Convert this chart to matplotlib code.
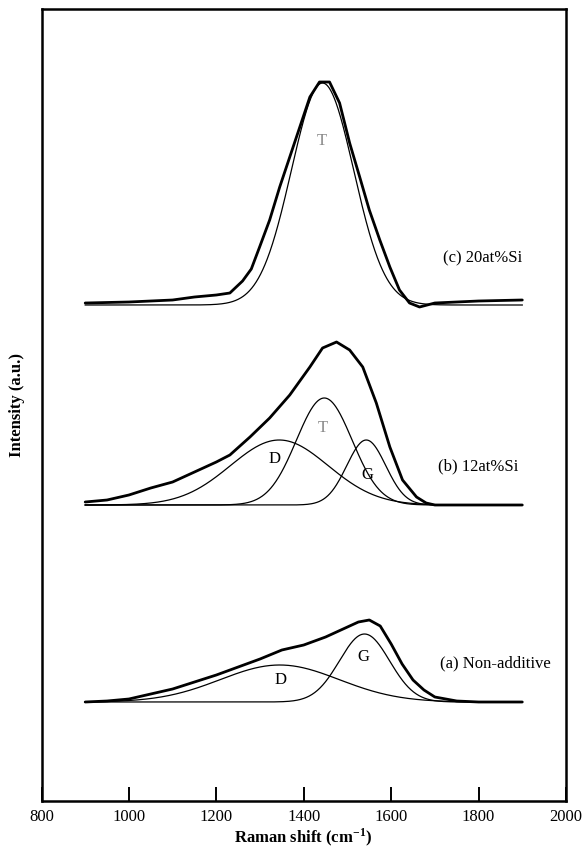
import numpy as np
import matplotlib
matplotlib.use("Agg")
import matplotlib.pyplot as plt

plt.rcParams['font.family'] = ['Liberation Serif', 'DejaVu Serif']
plt.rcParams['mathtext.fontset'] = 'stix'

# ---- data ----
# vertical offsets of each spectrum (arbitrary units)
offsets = {"a": 99, "b": 296, "c": 496}

# measured spectra (envelope, height above baseline)
meas_a_x = [900, 950, 1000, 1050, 1100, 1150, 1200, 1250, 1300, 1350, 1400, 1450,
            1500, 1525, 1550, 1575, 1600, 1625, 1650, 1675, 1700, 1750, 1800, 1900]
meas_a_y = [0, 1, 3, 8, 13, 20, 27, 35, 43, 52, 57, 65,
            75, 80, 82, 76, 58, 38, 22, 12, 5, 1, 0, 0]

meas_b_x = [900, 950, 1000, 1050, 1100, 1150, 1200, 1231, 1277, 1322, 1368, 1414,
            1443, 1475, 1505, 1535, 1566, 1597, 1626, 1658, 1680, 1700, 1800, 1900]
meas_b_y = [3, 5, 10, 17, 23, 33, 43, 50, 68, 87, 110, 138,
            157, 163, 155, 138, 102, 58, 25, 8, 2, 0, 0, 0]

meas_c_x = [900, 1000, 1100, 1150, 1200, 1231, 1260, 1280, 1299, 1322, 1345, 1368,
            1391, 1414, 1436, 1459, 1482, 1505, 1528, 1550, 1574, 1597, 1619, 1642,
            1665, 1700, 1800, 1900]
meas_c_y = [2, 3, 5, 8, 10, 12, 24, 36, 58, 85, 118, 148,
            178, 208, 223, 223, 202, 162, 128, 95, 65, 38, 15, 2,
            -2, 2, 4, 5]

# fitted Gaussian components: (label, center cm-1, FWHM cm-1, height)
fit_a = [("D", 1345, 320, 37), ("G", 1539, 135, 68)]
fit_b = [("D", 1344, 263, 65), ("T", 1447, 150, 107), ("G", 1543, 105, 65)]
fit_c = [("T", 1443, 168, 222)]

xticks = [800, 1000, 1200, 1400, 1600, 1800, 2000]

# ---- plotting ----
fig = plt.figure(figsize=(5.84, 8.66), dpi=100)
ax = fig.add_axes([41.5/584, 1-801/866, (566-41.5)/584, (801-9)/866])

xg = np.linspace(900, 1900, 801)

def gauss(x, c, w, h):
    s = w / 2.3548
    return h * np.exp(-(x - c) ** 2 / (2 * s * s))

for key, mx, my, fits in [("a", meas_a_x, meas_a_y, fit_a),
                          ("b", meas_b_x, meas_b_y, fit_b),
                          ("c", meas_c_x, meas_c_y, fit_c)]:
    off = offsets[key]
    ax.plot(mx, np.array(my) + off, color='black', lw=2.0,
            solid_joinstyle='round', solid_capstyle='round')
    for lab, c, w, h in fits:
        ax.plot(xg, gauss(xg, c, w, h) + off, color='black', lw=0.9)

fs = 12
ax.text(1809, 543, "(c) 20at%Si", fontsize=fs, ha='center', va='center')
ax.text(1441, 660, "T", fontsize=fs, ha='center', va='center', color='#8a8a8a')
ax.text(1800, 335, "(b) 12at%Si", fontsize=fs, ha='center', va='center')
ax.text(1334, 342, "D", fontsize=fs, ha='center', va='center')
ax.text(1443, 373, "T", fontsize=fs, ha='center', va='center', color='#8a8a8a')
ax.text(1546, 326, "G", fontsize=fs, ha='center', va='center')
ax.text(1839, 138, "(a) Non-additive", fontsize=fs, ha='center', va='center')
ax.text(1537, 144, "G", fontsize=fs, ha='center', va='center')
ax.text(1347, 121, "D", fontsize=fs, ha='center', va='center')

ax.set_xlim(800, 2000)
ax.set_ylim(0, 792)
ax.set_xticks(xticks)
ax.set_xticklabels([str(t) for t in xticks], fontsize=12)
ax.set_yticks([])
ax.tick_params(axis='x', direction='in', length=10, width=1.4, pad=5.5)
for sp in ax.spines.values():
    sp.set_linewidth(1.8)

ax.set_xlabel("Raman shift (cm$^{\\mathregular{-1}}$)", fontsize=12, fontweight='bold', labelpad=1)
ax.set_ylabel("Intensity (a.u.)", fontsize=12, fontweight='bold', labelpad=12)

fig.savefig("out.png", dpi=100)
